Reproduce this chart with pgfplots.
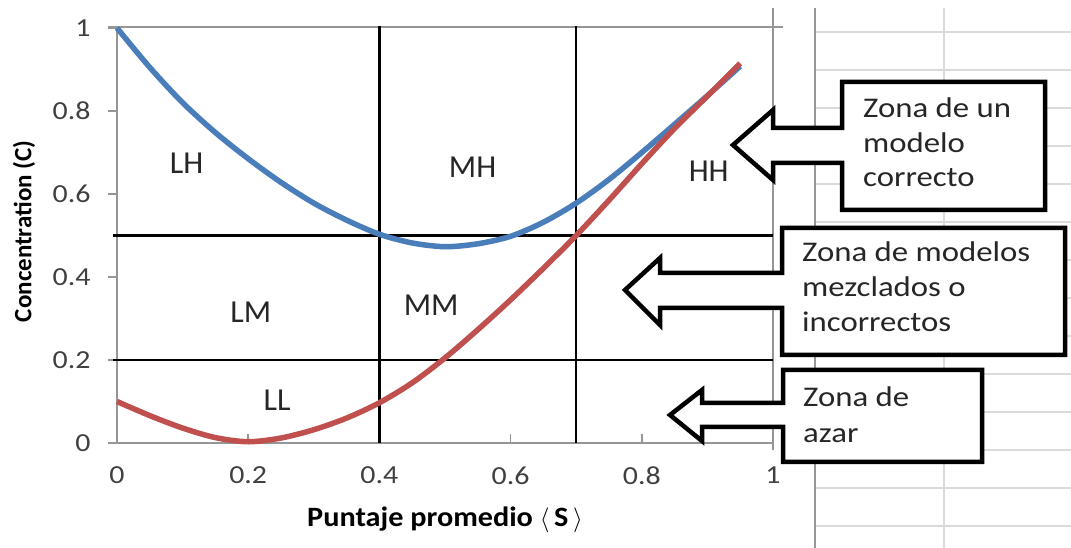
\documentclass[border=0pt]{standalone}
\usepackage{pgfplots}
\pgfplotsset{compat=1.18}
\usepackage{fontspec}
\setmainfont{Carlito}
\newfontfamily\tickfont[FakeStretch=1.15]{Carlito}
\newfontfamily\callfont[FakeStretch=1.15]{Carlito}
\newfontfamily\labfont[FakeStretch=1.08]{Carlito}
\definecolor{cblue}{RGB}{74,126,187}
\definecolor{cred}{RGB}{192,80,77}
\definecolor{txt}{RGB}{38,38,38}
\definecolor{ticktxt}{RGB}{64,64,64}
\definecolor{axgray}{RGB}{150,150,150}
\definecolor{cellgray}{RGB}{218,218,218}

\pgfplotstableread{
x y
0.00 1.000
0.05 0.905
0.10 0.820
0.15 0.748
0.20 0.685
0.25 0.628
0.30 0.578
0.35 0.537
0.40 0.503
0.45 0.482
0.50 0.473
0.55 0.480
0.60 0.498
0.65 0.532
0.70 0.578
0.75 0.635
0.80 0.700
0.85 0.768
0.90 0.837
0.95 0.908
}\bluedata

\pgfplotstableread{
x y
0.00 0.100
0.05 0.066
0.10 0.036
0.15 0.013
0.20 0.003
0.25 0.012
0.30 0.032
0.35 0.060
0.40 0.097
0.45 0.145
0.50 0.205
0.55 0.273
0.60 0.345
0.65 0.421
0.70 0.500
0.75 0.585
0.80 0.673
0.85 0.758
0.90 0.836
0.95 0.915
}\reddata

\begin{document}
\begin{tikzpicture}[x=1pt,y=1pt]
\useasboundingbox (0,0) rectangle (1071,548);
% spreadsheet cells
\foreach \yy in {516,478,440,402,364,326,288,250,212,174,136,98,60,22}
  \draw[cellgray,line width=1.5pt] (815,\yy) -- (1071,\yy);
\draw[cellgray,line width=1.5pt] (944,540) -- (944,0);
\draw[axgray,line width=1.5pt] (815,540) -- (815,0);
\draw[axgray,line width=1.5pt] (773,540) -- (773,98);
\draw[axgray,line width=1.5pt] (108,521) -- (783,521);

\begin{axis}[
  scale only axis, width=656pt, height=415pt,
  at={(117pt,105pt)}, anchor=south west,
  xmin=0, xmax=1, ymin=0, ymax=1,
  clip=false,
  axis lines=left,
  axis line style={draw=axgray, line width=1.5pt, -},
  xtick={0,0.2,0.4,0.6,0.8,1},
  ytick={0,0.2,0.4,0.6,0.8,1},
  xticklabels={0,0.2,0.4,0.6,0.8,1},
  yticklabels={0,0.2,0.4,0.6,0.8,1},
  major tick length=9pt,
  y tick style={axgray, line width=1.5pt},
  x tick style={axgray, line width=1.5pt},
  ytick align=outside,
  xtick align=inside,
  ticklabel style={font=\tickfont\fontsize{26}{31}\selectfont, text=ticktxt},
  yticklabel style={xshift=-14pt},
  xticklabel style={yshift=-20pt},
  xlabel={\bfseries Puntaje promedio $\langle$\,S\,$\rangle$},
  ylabel={\bfseries Concentration (C)},
  x label style={at={(axis description cs:0.5,-0.2024)}, anchor=base, font=\labfont\fontsize{28}{33}\selectfont, text=black},
  y label style={at={(axis description cs:-0.1418,0.51)}, anchor=center, font=\fontsize{25}{30}\selectfont, text=black},
]
% zone boundaries
\addplot[black, line width=2.5pt] coordinates {(-0.006,0.5) (1,0.5)};
\addplot[black, line width=2.5pt] coordinates {(-0.006,0.2) (1,0.2)};
\addplot[black, line width=2.5pt] coordinates {(0.4,0) (0.4,1.005)};
\addplot[black, line width=2.5pt] coordinates {(0.7,0) (0.7,1.005)};
% curves
\addplot[cblue, line width=5.5pt, smooth] table {\bluedata};
\addplot[cred, line width=5.5pt, smooth] table {\reddata};
% zone labels
\begin{scope}[every node/.style={font=\fontsize{32}{38}\selectfont, text=txt, inner sep=0pt}]
\node at (axis cs:0.106,0.673) {LH};
\node at (axis cs:0.542,0.664) {MH};
\node at (axis cs:0.902,0.655) {HH};
\node at (axis cs:0.204,0.316) {LM};
\node at (axis cs:0.479,0.331) {MM};
\node at (axis cs:0.244,0.104) {LL};
\end{scope}
\end{axis}

% callouts
\begin{scope}[line width=4.5pt, line join=miter, draw=black, fill=white]
\filldraw (842,466) -- (1045,466) -- (1045,338) -- (842,338) -- (842,385) -- (773,385) -- (773,368) -- (733,403) -- (773,438) -- (773,420) -- (842,420) -- cycle;
\filldraw (782,320) -- (1065,320) -- (1065,193) -- (782,193) -- (782,240) -- (660,240) -- (660,223) -- (625,258) -- (660,290) -- (660,275) -- (782,275) -- cycle;
\filldraw (783,178) -- (982,178) -- (982,86) -- (783,86) -- (783,121) -- (702,121) -- (702,107) -- (670,133) -- (702,158) -- (702,145) -- (783,145) -- cycle;
\end{scope}
\begin{scope}[every node/.style={font=\callfont\fontsize{28.5}{34}\selectfont, text=txt, inner sep=0pt, anchor=base west}]
\node at (863,430) {Zona de un};
\node at (863,395) {modelo};
\node at (863,361) {correcto};
\node at (802,286) {Zona de modelos};
\node at (802,251) {mezclados o};
\node at (802,216) {incorrectos};
\node at (803,141) {Zona de};
\node at (803,105) {azar};
\end{scope}
\end{tikzpicture}
\end{document}
